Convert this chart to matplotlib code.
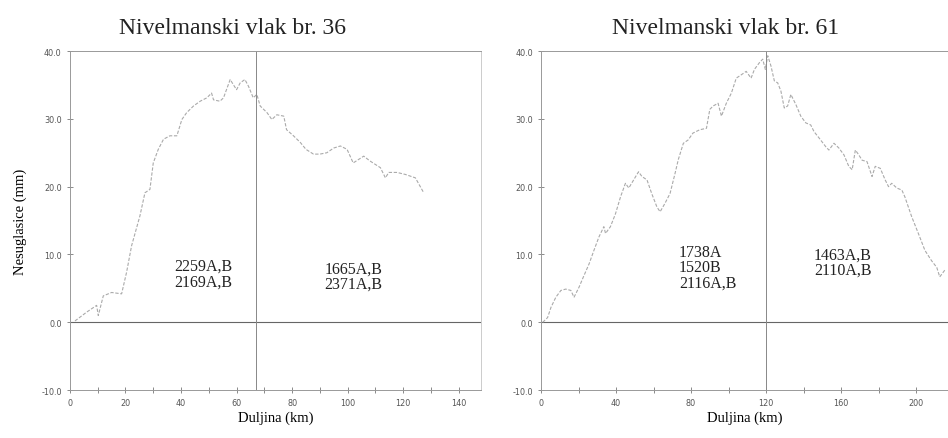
import matplotlib
matplotlib.use("Agg")
import matplotlib.pyplot as plt

# --- data ---
km_36 = [1.8, 6, 9.6, 10.2, 12, 15, 18.6, 20.4, 22.2, 25.2, 27, 28.8, 30, 31.8, 33.7, 36, 38.5,
         40.3, 42, 44.5, 46.9, 49.3, 51, 51.7, 54, 55.3, 57.7, 58.9, 60, 61.3, 63, 64.3, 66,
         67.3, 68.5, 71, 72.7, 74.5, 77, 78, 80.5, 83, 85, 87.7, 90, 92.5, 95, 97.4, 99.8,
         102, 105.8, 108, 111.8, 113.6, 114.8, 117.8, 120.8, 124.4, 127.4]
mm_36 = [0.2, 1.5, 2.5, 1.0, 3.9, 4.4, 4.2, 7.4, 11.3, 15.7, 19.1, 19.6, 23.5, 25.5, 27, 27.5, 27.5,
         29.9, 30.9, 31.9, 32.6, 33.1, 33.8, 32.8, 32.6, 33.1, 35.8, 35, 34.3, 35.3, 35.8, 34.8, 33.1,
         33.6, 31.9, 30.9, 29.9, 30.6, 30.4, 28.4, 27.5, 26.5, 25.5, 24.8, 24.8, 25, 25.7, 26, 25.5,
         23.5, 24.5, 23.8, 22.8, 21.3, 22.1, 22.1, 21.8, 21.3, 19.1]

km_61 = [0.9, 3.5, 5.3, 7.9, 10.6, 13.2, 15.9, 17.6, 20.3, 22.6, 25.6, 28.2, 30.9, 33.5, 34.4, 37,
         39.7, 42.4, 45, 46.8, 49.4, 52, 53.8, 56.5, 59, 61.8, 63.5, 66, 68.8, 71.5, 73.2, 75.9,
         78.5, 81, 84.7, 88.2, 90, 91.8, 94.4, 96.2, 98.8, 101.5, 104.1, 106.8, 109.4, 112, 113.8,
         116.5, 118.2, 119.6, 120.9, 122.6, 124.4, 126.2, 127.9, 129.7, 131.5, 133.2, 135.9, 138.5,
         141.2, 143.8, 145.6, 148.2, 151.8, 153.5, 156.2, 158.8, 161.5, 164.1, 165.9, 167.6, 169.4,
         171.2, 173.8, 176.5, 178.2, 180.9, 183.5, 185.3, 187, 189.7, 192.4, 194, 197.6, 201.2,
         204.7, 208.2, 211, 212.6, 215.3]
mm_61 = [0, 0.7, 2.2, 3.7, 4.7, 4.9, 4.7, 3.7, 5.2, 6.7, 8.6, 10.6, 12.6, 14.1, 13.1, 14.1,
         16, 18.5, 20.5, 19.8, 21, 22.2, 21.5, 21, 19, 17, 16.3, 17.5, 19, 22, 24, 26.4,
         26.9, 27.9, 28.4, 28.6, 31.4, 31.9, 32.3, 30.4, 32.3, 33.8, 36, 36.5, 37, 36, 37.3,
         38.3, 38.8, 37.3, 39.3, 37.8, 35.6, 35.3, 34.1, 31.6, 31.9, 33.6, 32.1, 30.4,
         29.4, 29.1, 28.1, 27.2, 25.9, 25.4, 26.4, 25.7, 24.7, 23, 22.5, 25.4, 24.7,
         23.9, 23.7, 21.5, 23, 22.7, 21, 20, 20.5, 19.8, 19.5, 18.5, 15.6, 13.1,
         10.6, 9.1, 8.1, 6.7, 7.7]

titles = ["Nivelmanski vlak br. 36", "Nivelmanski vlak br. 61"]
split_km = [67, 120]
labels_36 = ["2259A,B\n2169A,B", "1665A,B\n2371A,B"]
labels_61 = ["1738A\n1520B\n2116A,B", "1463A,B\n2110A,B"]

serif = "Liberation Serif"
tick_gray = "#555555"

fig = plt.figure(figsize=(9.48, 4.39), dpi=100)
ax1 = fig.add_axes([0.0738, 0.109, 0.4335, 0.7725])
ax2 = fig.add_axes([0.5707, 0.109, 0.4293, 0.7725])

def style(ax, xmax, major, minor):
    ax.set_ylim(-10, 40)
    ax.set_xlim(0, xmax)
    ax.set_yticks([-10, 0, 10, 20, 30, 40])
    ax.set_yticklabels(["-10.0", "0.0", "10.0", "20.0", "30.0", "40.0"])
    ax.set_xticks(range(0, int(xmax) + 1, major))
    ax.set_xticks(range(0, int(xmax) + 1, minor), minor=True)
    ax.tick_params(axis="both", which="both", direction="inout", colors="#777777",
                   labelcolor=tick_gray, labelsize=6.5, length=5, width=0.6)
    ax.tick_params(axis="x", which="minor", length=4)
    for s in ax.spines.values():
        s.set_color("#999999")
        s.set_linewidth(0.7)
    ax.spines["right"].set_color("#cccccc")
    for lbl in ax.get_xticklabels() + ax.get_yticklabels():
        lbl.set_stretch("condensed")
    ax.axhline(0, color="#666666", lw=0.8)
    ax.set_xlabel("Duljina (km)", family=serif, fontsize=10.5, labelpad=2)

style(ax1, 148, 20, 10)
style(ax2, 217, 40, 20)
ax2.spines["right"].set_visible(False)

ax1.plot(km_36, mm_36, color="#aaaaaa", lw=0.8, ls=(0, (3, 1.5)))
ax2.plot(km_61, mm_61, color="#aaaaaa", lw=0.8, ls=(0, (3, 1.5)))
ax1.axvline(split_km[0], color="#888888", lw=0.7)
ax2.axvline(split_km[1], color="#888888", lw=0.7)

ax1.set_ylabel("Nesuglasice (mm)", family=serif, fontsize=10.5, labelpad=10)

txt = dict(family=serif, fontsize=11.5, va="center", linespacing=0.95, color="#222222")
ax1.text(48, 7.2, labels_36[0], ha="center", **txt)
ax1.text(102, 6.8, labels_36[1], ha="center", **txt)
ax2.text(73.6, 8.1, labels_61[0], ha="left", **txt)
ax2.text(145.6, 8.9, labels_61[1], ha="left", **txt)

fig.text(0.245, 0.935, titles[0], family=serif, fontsize=17, ha="center", va="center",
         color="#222222")
fig.text(0.765, 0.935, titles[1], family=serif, fontsize=17, ha="center", va="center",
         color="#222222")

fig.savefig("out.png", dpi=100)
